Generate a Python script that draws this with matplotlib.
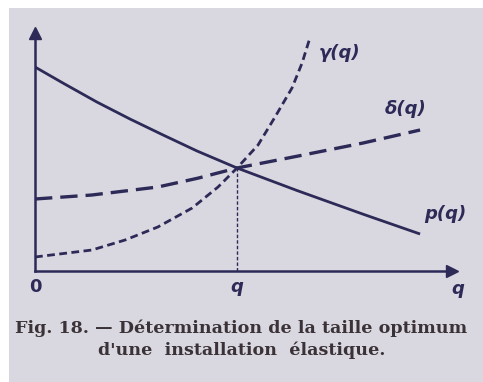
import matplotlib
matplotlib.use('Agg')
import matplotlib.pyplot as plt
from matplotlib.patches import Rectangle

# values (arbitrary units, optimum size q = 5)
q_p = [0, 0.69, 1.53, 2.35, 3.17, 4.01, 5.0, 6.49, 8.12, 9.53]
p_vals = [5.1, 4.7, 4.225, 3.8, 3.4, 3.0, 2.575, 2.01, 1.42, 0.925]

q_delta = [0, 1.41, 3.04, 4.03, 5.0, 6.49, 8.12, 9.53]
delta_vals = [1.8, 1.9, 2.1, 2.32, 2.575, 2.87, 3.2, 3.525]

q_gamma = [0, 1.41, 2.23, 3.04, 3.89, 4.53, 5.0, 5.52, 5.94, 6.36, 6.61, 6.81]
gamma_vals = [0.35, 0.525, 0.775, 1.1, 1.575, 2.1, 2.575, 3.15, 3.85, 4.575, 5.2, 5.85]

q_opt = 5.0
x_ticks = [0, q_opt]
x_tick_labels = ['0', 'q']

caption = ["Fig. 18. \u2014 D\u00e9termination de la taille optimum",
           "d'une  installation  \u00e9lastique."]

ink = '#2d2a58'
paper = '#d9d8e0'

fig = plt.figure(figsize=(4.83, 3.82), dpi=100, facecolor='white')
fig.patches.append(Rectangle((9 / 483, 0), 1, 374 / 382, transform=fig.transFigure,
                             facecolor=paper, edgecolor='none', zorder=-10))

ax = fig.add_axes([35 / 483, 111 / 382, 417 / 483, 238 / 382])
ax.patch.set_alpha(0)
ax.set_xlim(0, 10.32)
ax.set_ylim(0, 5.95)

ax.plot(q_p, p_vals, color=ink, lw=2.0, solid_capstyle='butt')
ax.plot(q_delta, delta_vals, color=ink, lw=2.4, dashes=(5.2, 2.4))
ax.plot(q_gamma, gamma_vals, color=ink, lw=2.0, dashes=(2.8, 1.6))
ax.vlines(q_opt, 0, p_vals[q_p.index(q_opt)], color=ink, lw=1.0,
          linestyles=(0, (2.5, 1.5)))

for side in ['top', 'right']:
    ax.spines[side].set_visible(False)
for side in ['left', 'bottom']:
    ax.spines[side].set_color(ink)
    ax.spines[side].set_linewidth(1.8)

ax.plot(1, 0, marker='>', ms=9, color=ink, transform=ax.transAxes, clip_on=False)
ax.plot(0, 1, marker='^', ms=9, color=ink, transform=ax.transAxes, clip_on=False)

ax.set_yticks([])
ax.set_xticks(x_ticks)
ax.set_xticklabels(x_tick_labels, fontsize=13, fontweight='bold', color=ink)
ax.tick_params(axis='x', length=0, pad=5)
ax.get_xticklabels()[1].set_fontstyle('italic')
ax.text(10.47, -0.45, 'q', fontsize=13, fontweight='bold', style='italic',
        color=ink, ha='center', va='center', clip_on=False)

lab = dict(fontsize=13, fontweight='bold', color=ink, ha='center', va='center')
ax.text(7.55, 5.45, '\u03b3(q)', style='italic', **lab)
ax.text(9.16, 4.05, '\u03b4(q)', style='italic', **lab)
ax.text(10.15, 1.42, 'p(q)', style='italic', **lab)

fig.text(0.5, 1 - 328 / 382, caption[0], family='DejaVu Serif', fontsize=12.6,
         fontweight='bold', color='#3a3236', ha='center', va='center')
fig.text(0.5, 1 - 350 / 382, caption[1], family='DejaVu Serif', fontsize=12.6,
         fontweight='bold', color='#3a3236', ha='center', va='center')

fig.savefig('out.png', dpi=100, facecolor='white')
